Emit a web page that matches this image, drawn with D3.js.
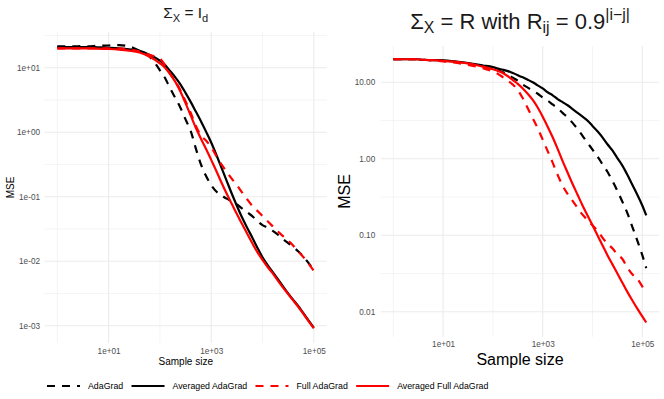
<!DOCTYPE html>
<html><head><meta charset="utf-8">
<script src="https://cdn.jsdelivr.net/npm/d3@7"></script>
<style>html,body{margin:0;padding:0;background:#fff;} svg{display:block;}</style>
</head><body>
<svg id="chart" width="664" height="399"></svg>
<script>
// ---------------- DATA ----------------
const seriesNames = ["AdaGrad", "Averaged AdaGrad", "Full AdaGrad", "Averaged Full AdaGrad"];

// Left panel: Sigma_X = I_d
const sampleSizeLeft = [1, 2, 3, 4, 6, 10, 16, 25, 40, 63, 100, 126, 158, 200, 251, 316, 398, 501, 631, 794, 1000, 1259, 1585, 1995, 2512, 3162, 3981, 5012, 6310, 7943, 10000, 12589, 15849, 19953, 25119, 31623, 39811, 50119, 63096, 79433, 100000];
const adagradLeft = [21.4, 21.4, 21.6, 21.4, 21.9, 22.1, 22.4, 21.4, 18.2, 14.8, 9.12, 6.92, 4.79, 3.39, 2.40, 1.58, 1.05, 0.562, 0.316, 0.209, 0.151, 0.120, 0.105, 0.0933, 0.0851, 0.0759, 0.0661, 0.0575, 0.0501, 0.0417, 0.0363, 0.0331, 0.0295, 0.0257, 0.0219, 0.0191, 0.0166, 0.0141, 0.0117, 0.00933, 0.00724];
const avgAdagradLeft = [20.9, 20.9, 20.9, 20.9, 20.7, 20.4, 20.0, 19.3, 18.2, 15.8, 12.9, 11.0, 8.91, 7.08, 5.50, 4.07, 2.95, 2.09, 1.48, 1.02, 0.692, 0.447, 0.282, 0.178, 0.112, 0.0724, 0.0479, 0.0331, 0.0234, 0.0162, 0.0115, 0.00871, 0.00676, 0.00525, 0.00407, 0.00316, 0.00251, 0.00200, 0.00155, 0.00120, 0.000933];
const fullAdagradLeft = [20.0, 20.0, 20.0, 20.0, 20.0, 20.0, 20.0, 19.3, 17.8, 15.8, 13.8, 11.0, 8.13, 6.17, 4.47, 3.02, 2.00, 1.26, 0.891, 0.741, 0.589, 0.427, 0.316, 0.245, 0.191, 0.151, 0.117, 0.0912, 0.0724, 0.0603, 0.0501, 0.0417, 0.0347, 0.0288, 0.0245, 0.0209, 0.0174, 0.0141, 0.0115, 0.00912, 0.00708];
const avgFullAdagradLeft = [20.0, 20.0, 20.0, 20.0, 19.7, 19.5, 19.1, 18.4, 17.2, 14.8, 11.7, 10.0, 7.94, 6.03, 4.27, 2.82, 1.82, 1.17, 0.794, 0.550, 0.372, 0.251, 0.166, 0.112, 0.0776, 0.0537, 0.0380, 0.0269, 0.0191, 0.0138, 0.0105, 0.00813, 0.00646, 0.00501, 0.00389, 0.00309, 0.00245, 0.00195, 0.00151, 0.00117, 0.000912];

// Right panel: Sigma_X = R with R_ij = 0.9^|i-j|
const sampleSizeRight = [1, 2, 3, 4, 6, 10, 16, 25, 40, 63, 100, 126, 158, 200, 251, 316, 398, 501, 631, 794, 1000, 1259, 1585, 1995, 2512, 3162, 3981, 5012, 6310, 7943, 10000, 12589, 15849, 19953, 25119, 31623, 39811, 50119, 63096, 79433, 100000, 120000];
const adagradRight = [20.0, 20.0, 20.0, 19.7, 19.5, 19.1, 18.6, 18.0, 17.2, 16.2, 15.1, 14.5, 13.5, 12.6, 11.5, 10.5, 9.33, 8.51, 7.76, 7.08, 6.31, 5.75, 5.13, 4.57, 3.98, 3.47, 2.95, 2.45, 2.00, 1.62, 1.32, 1.07, 0.851, 0.676, 0.513, 0.380, 0.275, 0.195, 0.129, 0.0851, 0.0550, 0.0372];
const avgAdagradRight = [20.0, 20.0, 20.0, 19.7, 19.5, 19.3, 18.8, 18.2, 17.4, 16.6, 15.8, 15.1, 14.6, 14.0, 13.2, 12.4, 11.6, 10.8, 10.0, 9.12, 8.32, 7.41, 6.76, 6.03, 5.50, 5.01, 4.47, 3.98, 3.55, 3.16, 2.69, 2.29, 1.91, 1.55, 1.29, 1.02, 0.813, 0.617, 0.457, 0.339, 0.245, 0.182];
const fullAdagradRight = [20.0, 20.0, 20.0, 19.7, 19.3, 18.8, 18.2, 17.4, 16.4, 15.3, 13.8, 12.9, 11.7, 10.5, 9.33, 7.94, 6.17, 4.57, 3.39, 2.51, 1.78, 1.26, 0.891, 0.617, 0.447, 0.347, 0.282, 0.229, 0.186, 0.158, 0.135, 0.115, 0.0933, 0.0776, 0.0676, 0.0562, 0.0490, 0.0380, 0.0309, 0.0269, 0.0214, 0.0174];
const avgFullAdagradRight = [20.0, 20.0, 20.0, 19.7, 19.5, 19.1, 18.6, 18.0, 17.2, 16.0, 14.8, 14.1, 13.2, 12.0, 10.7, 9.55, 8.32, 7.08, 5.89, 4.68, 3.55, 2.63, 1.91, 1.35, 0.933, 0.661, 0.468, 0.339, 0.245, 0.182, 0.135, 0.100, 0.0741, 0.0550, 0.0417, 0.0316, 0.0240, 0.0182, 0.0141, 0.0110, 0.00871, 0.00724];

// Ticks
const xTickValues = [10, 1000, 100000];
const xTickLabels = ["1e+01", "1e+03", "1e+05"];
const xMinorValues = [1, 100, 10000];
const yTickValuesLeft = [10, 1, 0.1, 0.01, 0.001];
const yTickLabelsLeft = ["1e+01", "1e+00", "1e-01", "1e-02", "1e-03"];
const yMinorValuesLeft = [31.62, 3.162, 0.3162, 0.03162, 0.003162];
const yTickValuesRight = [10, 1, 0.1, 0.01];
const yTickLabelsRight = ["10.00", "1.00", "0.10", "0.01"];
const yMinorValuesRight = [3.162, 0.3162, 0.03162];

// ---------------- STYLE ----------------
const FONT = "'Liberation Sans', Arial, Helvetica, sans-serif";
const seriesStyle = [
  { color: "#000000", dash: "8,7" },
  { color: "#000000", dash: null },
  { color: "#ff0000", dash: "8,7" },
  { color: "#ff0000", dash: null }
];
const LINE_W = 2.2;

const svg = d3.select("#chart");
svg.append("rect").attr("width", 664).attr("height", 399).attr("fill", "#fff");

function drawPanel(cfg) {
  const g = svg.append("g");
  const x = d3.scaleLog().domain([1, 100000]).range(cfg.xRange);
  const y = d3.scaleLog().domain(cfg.yDomain).range(cfg.yRange);
  const b = cfg.box;

  // minor grid
  g.selectAll(null).data(cfg.xMinor).join("line")
    .attr("x1", d => x(d)).attr("x2", d => x(d)).attr("y1", b.top).attr("y2", b.bottom)
    .attr("stroke", "#ebebeb").attr("stroke-width", 0.55);
  g.selectAll(null).data(cfg.yMinor).join("line")
    .attr("y1", d => y(d)).attr("y2", d => y(d)).attr("x1", b.left).attr("x2", b.right)
    .attr("stroke", "#ebebeb").attr("stroke-width", 0.55);
  // major grid
  g.selectAll(null).data(xTickValues).join("line")
    .attr("x1", d => x(d)).attr("x2", d => x(d)).attr("y1", b.top).attr("y2", b.bottom)
    .attr("stroke", "#ebebeb").attr("stroke-width", 1.07);
  g.selectAll(null).data(cfg.yTicks).join("line")
    .attr("y1", d => y(d)).attr("y2", d => y(d)).attr("x1", b.left).attr("x2", b.right)
    .attr("stroke", "#ebebeb").attr("stroke-width", 1.07);

  // axes
  const xa = d3.axisBottom(x).tickValues(xTickValues).tickFormat((d, i) => xTickLabels[i]).tickSize(0).tickPadding(cfg.xPad);
  const gx = g.append("g").attr("transform", `translate(0,${b.bottom})`).call(xa);
  gx.select(".domain").remove();
  gx.attr("font-family", FONT).attr("font-size", cfg.tickFont);
  gx.selectAll("text").attr("fill", "#4d4d4d");

  const ya = d3.axisLeft(y).tickValues(cfg.yTicks).tickFormat((d, i) => cfg.yLabels[i]).tickSize(0).tickPadding(cfg.yPad);
  const gy = g.append("g").attr("transform", `translate(${b.left},0)`).call(ya);
  gy.select(".domain").remove();
  gy.attr("font-family", FONT).attr("font-size", cfg.tickFont);
  gy.selectAll("text").attr("fill", "#4d4d4d");

  // lines
  cfg.series.forEach((vals, si) => {
    const line = d3.line().x((d, i) => x(cfg.xs[i])).y(d => y(d)).curve(d3.curveMonotoneX);
    g.append("path").datum(vals).attr("d", line)
      .attr("fill", "none").attr("stroke", seriesStyle[si].color)
      .attr("stroke-width", LINE_W)
      .attr("stroke-dasharray", seriesStyle[si].dash)
      .attr("stroke-linejoin", "round");
  });

  // axis titles
  const cx = (b.left + b.right) / 2;
  g.append("text").attr("x", cx).attr("y", cfg.xTitleY).attr("text-anchor", "middle")
    .attr("font-family", FONT).attr("font-size", cfg.axisTitleFont).attr("fill", "#000").text("Sample size");
  g.append("text").attr("transform", `translate(${cfg.yTitleX},${(b.top + b.bottom) / 2}) rotate(-90)`)
    .attr("text-anchor", "middle").attr("dy", "0.36em")
    .attr("font-family", FONT).attr("font-size", cfg.axisTitleFont).attr("fill", "#000").text("MSE");

  // title
  const t = g.append("text").attr("x", cx).attr("y", cfg.titleY).attr("text-anchor", "middle")
    .attr("font-family", FONT).attr("font-size", cfg.titleFont).attr("fill", "#1a1a1a");
  cfg.titleParts.forEach(p => {
    const ts = t.append("tspan").text(p.t);
    const fs = p.k === "n" ? cfg.titleFont : cfg.titleFont * 0.72;
    ts.attr("font-size", fs);
    if (p.dy) ts.attr("dy", p.dy * cfg.titleFont);
  });
}

drawPanel({
  xs: sampleSizeLeft,
  series: [adagradLeft, avgAdagradLeft, fullAdagradLeft, avgFullAdagradLeft],
  xRange: [57.3, 313.8], yDomain: [10, 0.001], yRange: [67.7, 325.7],
  box: { left: 44.5, right: 327, top: 32, bottom: 343 },
  xMinor: xMinorValues, yMinor: yMinorValuesLeft,
  yTicks: yTickValuesLeft, yLabels: yTickLabelsLeft, yPad: 4.5, xPad: 5.5,
  tickFont: 8.2, axisTitleFont: 10, xTitleY: 365, yTitleX: 10.5,
  titleFont: 15.4, titleY: 18.3,
  titleParts: [
    { t: "Σ", k: "n" }, { t: "X", k: "s", dy: 0.22 },
    { t: " = I", k: "n", dy: -0.22 }, { t: "d", k: "s", dy: 0.22 }
  ]
});

drawPanel({
  xs: sampleSizeRight,
  series: [adagradRight, avgAdagradRight, fullAdagradRight, avgFullAdagradRight],
  xRange: [393.3, 642.3], yDomain: [10, 0.01], yRange: [82.3, 311.8],
  box: { left: 380.7, right: 659.3, top: 46, bottom: 337 },
  xMinor: xMinorValues, yMinor: yMinorValuesRight,
  yTicks: yTickValuesRight, yLabels: yTickLabelsRight, yPad: 5.5, xPad: 4.5,
  tickFont: 8.2, axisTitleFont: 16, xTitleY: 365, yTitleX: 344,
  titleFont: 22, titleY: 29.3,
  titleParts: [
    { t: "Σ", k: "n" }, { t: "X", k: "s", dy: 0.18 },
    { t: " = R with R", k: "n", dy: -0.18 }, { t: "ij", k: "s", dy: 0.18 },
    { t: " = 0.9", k: "n", dy: -0.18 }, { t: "|i−j|", k: "s", dy: -0.42 }
  ]
});

// ---------------- LEGEND ----------------
const leg = svg.append("g");
let lx = 47;
const ly = 386;
seriesNames.forEach((name, i) => {
  leg.append("line").attr("x1", lx).attr("x2", lx + 33).attr("y1", ly).attr("y2", ly)
    .attr("stroke", seriesStyle[i].color).attr("stroke-width", LINE_W)
    .attr("stroke-dasharray", seriesStyle[i].dash);
  const tx = leg.append("text").attr("x", lx + 41).attr("y", ly).attr("dy", "0.35em")
    .attr("font-family", FONT).attr("font-size", 8.8).attr("fill", "#000").text(name);
  const w = tx.node().getComputedTextLength();
  lx = lx + 41 + w + 8.3;
});
</script>
</body></html>
